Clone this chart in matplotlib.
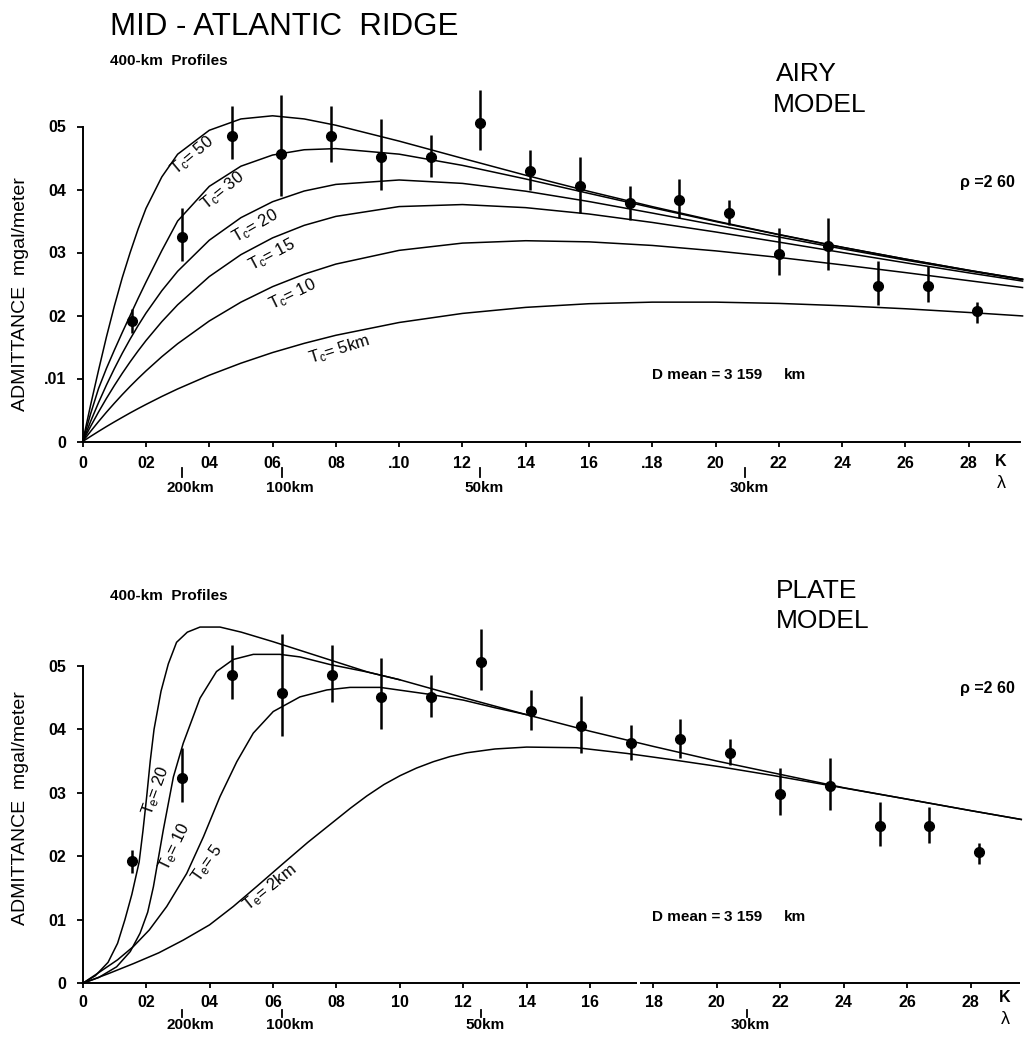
import numpy as np
import matplotlib
matplotlib.use("Agg")
import matplotlib.pyplot as plt

plt.rcParams['font.family'] = ['Liberation Sans', 'DejaVu Sans']
plt.rcParams['mathtext.fontset'] = 'custom'
plt.rcParams['mathtext.rm'] = 'Liberation Sans'
plt.rcParams['mathtext.it'] = 'Liberation Sans:italic'

# ---- observed admittance, 400-km profiles (wavenumber K in 1/km, mgal/m) ----
obs_k = [0.0157, 0.0314, 0.0471, 0.0628, 0.0785, 0.0942, 0.1100, 0.1257, 0.1414,
         0.1571, 0.1728, 0.1885, 0.2042, 0.2199, 0.2356, 0.2513, 0.2670, 0.2827]
obs_z = [0.0192, 0.0324, 0.0485, 0.0457, 0.0485, 0.0451, 0.0451, 0.0506, 0.0429,
         0.0405, 0.0378, 0.0384, 0.0363, 0.0298, 0.0310, 0.0247, 0.0247, 0.0207]
obs_lo = [0.0173, 0.0286, 0.0448, 0.0390, 0.0443, 0.0400, 0.0420, 0.0462, 0.0399,
          0.0363, 0.0352, 0.0355, 0.0344, 0.0265, 0.0273, 0.0216, 0.0221, 0.0188]
obs_hi = [0.0210, 0.0371, 0.0532, 0.0550, 0.0533, 0.0512, 0.0486, 0.0558, 0.0462,
          0.0452, 0.0406, 0.0416, 0.0384, 0.0339, 0.0355, 0.0286, 0.0278, 0.0221]

# ---- Airy model curves ----
airy_k = [0, 0.0025, 0.005, 0.0075, 0.01, 0.0125, 0.015, 0.0175, 0.02, 0.025, 0.03,
          0.04, 0.05, 0.06, 0.07, 0.08, 0.10, 0.12, 0.14, 0.16, 0.18, 0.20, 0.22,
          0.24, 0.26, 0.28, 0.297]
airy_tc50 = [0, 0.0058, 0.0113, 0.0166, 0.0215, 0.0260, 0.0300, 0.0337, 0.0370, 0.0420,
             0.0456, 0.0494, 0.0512, 0.0517, 0.0512, 0.0502, 0.04768, 0.04495, 0.04226,
             0.03970, 0.03728, 0.03500, 0.03286, 0.03084, 0.02896, 0.02718, 0.02576]
airy_tc30 = [0, 0.0044, 0.0084, 0.0116, 0.0145, 0.0173, 0.0200, 0.0227, 0.0253, 0.0303,
             0.0350, 0.0405, 0.0437, 0.04547, 0.04631, 0.04649, 0.04561, 0.04383, 0.04167,
             0.03938, 0.03711, 0.03491, 0.03282, 0.03082, 0.02895, 0.02717, 0.02576]
airy_tc20 = [0, 0.00319, 0.00617, 0.00896, 0.01156, 0.01400, 0.01627, 0.01839, 0.02038,
             0.02393, 0.02702, 0.03195, 0.03553, 0.03806, 0.03976, 0.04081, 0.04151,
             0.04097, 0.03973, 0.03809, 0.03626, 0.03436, 0.03246, 0.03059, 0.02880,
             0.02708, 0.02569]
airy_tc15 = [0, 0.00240, 0.00468, 0.00684, 0.00888, 0.01082, 0.01265, 0.01438, 0.01602,
             0.01902, 0.02170, 0.02618, 0.02966, 0.03232, 0.03431, 0.03573, 0.03729,
             0.03761, 0.03712, 0.03611, 0.03477, 0.03326, 0.03165, 0.03000, 0.02837,
             0.02677, 0.02546]
airy_tc10 = [0, 0.00161, 0.00316, 0.00465, 0.00607, 0.00744, 0.00875, 0.01000, 0.01120,
             0.01346, 0.01552, 0.01913, 0.02212, 0.02458, 0.02656, 0.02816, 0.03034,
             0.03149, 0.03187, 0.03169, 0.03112, 0.03026, 0.02922, 0.02804, 0.02681,
             0.02553, 0.02444]
airy_tc5 = [0, 0.00081, 0.00160, 0.00237, 0.00311, 0.00383, 0.00454, 0.00522, 0.00588,
            0.00715, 0.00834, 0.01052, 0.01243, 0.01412, 0.01558, 0.01686, 0.01889,
            0.02033, 0.02129, 0.02187, 0.02212, 0.02212, 0.02192, 0.02155, 0.02107,
            0.02048, 0.01993]

# ---- plate (flexure) model curves ----
plate_k20 = [0, 0.004, 0.008, 0.011, 0.0133, 0.0155, 0.0178, 0.019, 0.0202, 0.0213,
             0.0225, 0.0247, 0.027, 0.0296, 0.033, 0.037, 0.0433, 0.05, 0.06, 0.07,
             0.08, 0.09, 0.10, 0.12, 0.14, 0.16, 0.18, 0.20, 0.22, 0.24, 0.26, 0.28, 0.296]
plate_te20 = [0, 0.0012, 0.0033, 0.0063, 0.0100, 0.0140, 0.0191, 0.0240, 0.0295, 0.0350,
              0.0400, 0.0460, 0.0503, 0.0537, 0.0553, 0.0561, 0.0561, 0.0553, 0.0538,
              0.0522, 0.0506, 0.0490, 0.0478, 0.0450, 0.0423, 0.0397, 0.0373, 0.0350,
              0.0329, 0.0308, 0.0290, 0.0272, 0.0258]
plate_k10 = [0, 0.005, 0.0107, 0.015, 0.0181, 0.0205, 0.0223, 0.0254, 0.0286, 0.0317,
             0.037, 0.0422, 0.0475, 0.0538, 0.0622, 0.0685, 0.078, 0.09, 0.10]
plate_te10 = [0, 0.0009, 0.0026, 0.0050, 0.0079, 0.0112, 0.0152, 0.0241, 0.0325, 0.0378,
              0.0449, 0.0491, 0.0510, 0.0518, 0.0518, 0.0514, 0.0502, 0.0490, 0.0478]
plate_k5 = [0, 0.0054, 0.011, 0.016, 0.021, 0.0265, 0.0328, 0.0381, 0.0433, 0.0486,
            0.0538, 0.0601, 0.0685, 0.077, 0.0843, 0.0938, 0.1095, 0.12, 0.13, 0.14]
plate_te5 = [0, 0.0018, 0.0037, 0.0058, 0.0084, 0.0121, 0.0173, 0.0231, 0.0294, 0.0349,
             0.0394, 0.0428, 0.0451, 0.0462, 0.0466, 0.0466, 0.0455, 0.0446, 0.0434, 0.0423]
plate_k2 = [0, 0.008, 0.016, 0.024, 0.0317, 0.04, 0.0475, 0.055, 0.0633, 0.071, 0.079,
            0.0845, 0.0896, 0.095, 0.1001, 0.1053, 0.1106, 0.1158, 0.1211, 0.13, 0.14,
            0.1558, 0.1716, 0.186, 0.201, 0.218, 0.235, 0.26, 0.28, 0.296]
plate_te2 = [0, 0.0015, 0.0031, 0.0048, 0.0068, 0.0092, 0.0121, 0.0153, 0.0189, 0.0222,
             0.0254, 0.0276, 0.0295, 0.0313, 0.0327, 0.0339, 0.0349, 0.0357, 0.0363,
             0.0369, 0.0372, 0.0371, 0.0362, 0.0352, 0.0341, 0.0327, 0.0312, 0.0290,
             0.0272, 0.0258]

# ---- tick labels ----
y_ticks = [0, 0.01, 0.02, 0.03, 0.04, 0.05]
y_labels_top = ["0", ".01", "02", "03", "04", "05"]
y_labels_bot = ["0", "01", "02", "03", "04", "05"]
x_ticks = [0, 0.02, 0.04, 0.06, 0.08, 0.10, 0.12, 0.14, 0.16, 0.18, 0.20, 0.22, 0.24, 0.26, 0.28]
x_labels_top = ["0", "02", "04", "06", "08", ".10", "12", "14", "16", ".18", "20", "22", "24", "26", "28"]
x_labels_bot = ["0", "02", "04", "06", "08", "10", "12", "14", "16", "18", "20", "22", "24", "26", "28"]
wavelengths_km = [200, 100, 50, 30]

W, H = 1025, 1039
fig = plt.figure(figsize=(W / 100, H / 100), dpi=100)


def fx(x):
    return x / W


def fy(y):
    return 1 - y / H


def style_axes(ax, ylabels, xlabels, xpad, km_label_y, km_tick_y):
    ax.set_ylim(0, 0.06)
    for s in ("top", "right"):
        ax.spines[s].set_visible(False)
    ax.spines["left"].set_bounds(0, 0.05)
    ax.spines["left"].set_linewidth(1.4)
    ax.spines["bottom"].set_linewidth(1.4)
    ax.set_yticks(y_ticks)
    ax.set_yticklabels(ylabels, fontsize=11.5, fontweight="bold")
    ax.set_xticks(x_ticks)
    ax.set_xticklabels(xlabels, fontsize=11.5, fontweight="bold")
    ax.tick_params(axis="y", direction="out", length=4.3, width=1.3, pad=7.7)
    ax.tick_params(axis="x", direction="out", length=3.6, width=1.3, pad=xpad)
    # wavelength scale under the wavenumber axis
    for wl in wavelengths_km:
        kk = 2 * np.pi / wl
        ax.plot([kk, kk], km_tick_y, color="k", lw=1.3, clip_on=False)
        ax.annotate(f"{wl}km", xy=(kk, km_label_y), xycoords="data",
                    xytext=(-11.5, 0), textcoords="offset points",
                    ha="left", va="center", fontsize=11, fontweight="bold",
                    annotation_clip=False)


# ================= AIRY MODEL =================
ax1 = fig.add_axes([fx(82.7), fy(441.5), (1020 - 82.7) / W, 378 / H])
ax1.set_xlim(0, 0.2962)
style_axes(ax1, y_labels_top, x_labels_top, 7.0,
           -(488 - 441.5) / 6300, [-(468 - 441.5) / 6300, -(477 - 441.5) / 6300])

for z in (airy_tc50, airy_tc30, airy_tc20, airy_tc15, airy_tc10, airy_tc5):
    ax1.plot(airy_k, z, color="k", lw=1.1, clip_on=False)
ax1.errorbar(obs_k, obs_z,
             yerr=[np.subtract(obs_z, obs_lo), np.subtract(obs_hi, obs_z)],
             fmt="o", color="k", ms=7, elinewidth=1.8, capsize=0, clip_on=False, zorder=3)

# ================= PLATE MODEL =================
ax2 = fig.add_axes([fx(82.7), fy(983.3), (1020 - 82.7) / W, 381 / H])
ax2.set_xlim(0, 0.2956)
style_axes(ax2, y_labels_bot, x_labels_bot, 5.0,
           -(1025 - 983.3) / 6350, [-(1010 - 983.3) / 6350, -(1017 - 983.3) / 6350])
# drafted baseline with a small break
ax2.spines["bottom"].set_visible(False)
gap0, gap1 = 0.1748, 0.1758
ax2.plot([0, gap0], [0, 0], color="k", lw=1.4, clip_on=False, solid_capstyle="butt")
ax2.plot([gap1, 0.2956], [0, 0], color="k", lw=1.4, clip_on=False, solid_capstyle="butt")

for kk, z in ((plate_k20, plate_te20), (plate_k10, plate_te10),
              (plate_k5, plate_te5), (plate_k2, plate_te2)):
    ax2.plot(kk, z, color="k", lw=1.1, clip_on=False)
ax2.errorbar(obs_k, obs_z,
             yerr=[np.subtract(obs_z, obs_lo), np.subtract(obs_hi, obs_z)],
             fmt="o", color="k", ms=7, elinewidth=1.8, capsize=0, clip_on=False, zorder=3)

# ================= annotations =================
fig.text(fx(110), fy(35), "MID - ATLANTIC  RIDGE", fontsize=22.5, ha="left", va="baseline")
for ybase in (65, 600):
    fig.text(fx(110), fy(ybase), "400-km  Profiles", fontsize=11, fontweight="bold",
             ha="left", va="baseline")

fig.text(fx(776), fy(74), "AIRY", fontsize=19, ha="left", va="center")
fig.text(fx(773), fy(105), "MODEL", fontsize=19, ha="left", va="center")
fig.text(fx(776), fy(591), "PLATE", fontsize=19, ha="left", va="center")
fig.text(fx(776), fy(621), "MODEL", fontsize=19, ha="left", va="center")

for yc in (182, 688):
    fig.text(fx(960), fy(yc), "\u03c1 =2 60", fontsize=11.5, fontweight="bold",
             ha="left", va="center")
for yc in (375, 917):
    fig.text(fx(652), fy(yc), "D mean =", fontsize=11, fontweight="bold",
             ha="left", va="center")
    fig.text(fx(724), fy(yc), "3 159", fontsize=11, fontweight="bold",
             ha="left", va="center")
    fig.text(fx(784), fy(yc), "km", fontsize=11, fontweight="bold",
             ha="left", va="center")

fig.text(fx(21), fy(294), "ADMITTANCE  mgal/meter", fontsize=14, rotation=90,
         ha="center", va="center")
fig.text(fx(21), fy(808), "ADMITTANCE  mgal/meter", fontsize=14, rotation=90,
         ha="center", va="center")

for xc, yk, yl in ((1001, 462, 483), (1005, 998, 1020)):
    fig.text(fx(xc), fy(yk), "K", fontsize=11.5, fontweight="bold", ha="center", va="center")
    fig.text(fx(xc), fy(yl), "\u03bb", fontsize=13, ha="center", va="center")

# curve labels, Airy
airy_labels = [("= 50", 192, 156, 40), ("= 30", 223, 191, 39), ("= 20", 255, 226, 30),
               ("= 15", 272, 255, 28), ("= 10", 293, 294, 26), ("= 5km", 339, 350, 17.5)]
for txt, xc, yc, rot in airy_labels:
    fig.text(fx(xc), fy(yc), r"$\mathrm{T_c}$" + txt, fontsize=12, rotation=rot,
             ha="center", va="center", rotation_mode="anchor")

plate_labels = [("= 20", 156, 791, 70), ("= 10", 175, 847, 64), ("= 5", 207, 863, 55),
                ("= 2km", 270, 888, 39)]
for txt, xc, yc, rot in plate_labels:
    fig.text(fx(xc), fy(yc), r"$\mathrm{T_e}$" + txt, fontsize=12, rotation=rot,
             ha="center", va="center", rotation_mode="anchor")

fig.savefig("out.png", dpi=100, facecolor="white")
